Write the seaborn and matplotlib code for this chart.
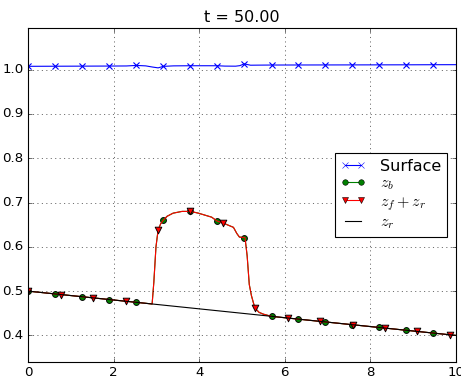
import matplotlib
matplotlib.use("Agg")
import matplotlib.pyplot as plt
from matplotlib.lines import Line2D
import seaborn as sns

# Datos leidos de la figura
# superficie libre
surf_x = [0.0, 0.63, 1.26, 1.89, 2.3, 2.53, 2.75, 2.9, 3.04, 3.16, 3.4, 3.79, 4.42,
          4.6, 4.85, 4.95, 5.05, 5.2, 5.4, 5.69, 6.32, 6.95, 7.58, 8.21, 8.84, 9.47, 10.0]
surf_y = [1.0075, 1.0077, 1.0079, 1.0081, 1.0083, 1.0095, 1.0085, 1.0060, 1.0040, 1.0074,
          1.0085, 1.0088, 1.0088, 1.0080, 1.0078, 1.0090, 1.0130, 1.0100, 1.0102, 1.0104,
          1.0105, 1.0106, 1.0107, 1.0108, 1.0109, 1.0111, 1.0112]
surf_mark_x = [0.0, 0.63, 1.26, 1.89, 2.53, 3.16, 3.79, 4.42, 5.05, 5.69, 6.32, 6.95,
               7.58, 8.21, 8.84, 9.47]
surf_mark_y = [1.0075, 1.0077, 1.0079, 1.0081, 1.0095, 1.0074, 1.0088, 1.0088, 1.0130,
               1.0104, 1.0105, 1.0106, 1.0107, 1.0108, 1.0109, 1.0111]

# perfil del fondo / flujo (z_b y z_f + z_r coinciden)
prof_x = [0.0, 2.9, 2.94, 2.99, 3.04, 3.1, 3.16, 3.25, 3.39, 3.6, 3.8, 3.98, 4.29, 4.42,
          4.55, 4.65, 4.8, 4.88, 4.94, 5.07, 5.12, 5.17, 5.22, 5.3, 5.4, 5.5, 5.69, 10.0]
prof_y = [0.500, 0.471, 0.520, 0.600, 0.638, 0.652, 0.660, 0.669, 0.676, 0.680, 0.680,
          0.676, 0.667, 0.658, 0.654, 0.650, 0.644, 0.630, 0.622, 0.621, 0.580, 0.515,
          0.490, 0.462, 0.452, 0.448, 0.443, 0.400]

bed_mark_x = [0.0, 0.63, 1.26, 1.89, 2.53, 3.16, 3.79, 4.42, 5.05, 5.69, 6.32, 6.95,
              7.58, 8.21, 8.84, 9.47]
bed_mark_y = [0.500, 0.494, 0.487, 0.481, 0.475, 0.660, 0.680, 0.658, 0.621, 0.443,
              0.437, 0.430, 0.424, 0.418, 0.412, 0.405]

flow_mark_x = [0.0, 0.76, 1.52, 2.28, 3.04, 3.79, 4.55, 5.31, 6.07, 6.83, 7.59, 8.34,
               9.1, 9.86]
flow_mark_y = [0.500, 0.492, 0.485, 0.477, 0.638, 0.680, 0.654, 0.461, 0.439, 0.432,
               0.424, 0.417, 0.409, 0.401]

# z_r recta
zr_x = [0.0, 10.0]
zr_y = [0.5, 0.4]

etiquetas = ['Surface', '$z_b$', '$z_f + z_r$', '$z_r$']
titulo = 't = 50.00'

plt.style.use('classic')
plt.rcParams['figure.facecolor'] = 'white'
plt.rcParams['savefig.facecolor'] = 'white'

fig = plt.figure(figsize=(461 / 80, 379 / 80), dpi=80)
ax = fig.add_axes([28 / 461, 17 / 379, 428 / 461, 334 / 379])

# Superficie
sns.lineplot(x=surf_x, y=surf_y, color='b', lw=1, estimator=None, sort=False, ax=ax, zorder=2)
sns.scatterplot(x=surf_mark_x, y=surf_mark_y, marker='x', color='b', s=30, linewidth=1,
                ax=ax, zorder=2)

# z_b
sns.lineplot(x=prof_x, y=prof_y, color='g', lw=1, estimator=None, sort=False, ax=ax, zorder=2)
sns.scatterplot(x=bed_mark_x, y=bed_mark_y, marker='o', color='g', edgecolor='k', s=28,
                linewidth=0.8, ax=ax, zorder=2.05)

# z_f + z_r
sns.lineplot(x=prof_x, y=prof_y, color='r', lw=1, estimator=None, sort=False, ax=ax, zorder=2.1)
sns.scatterplot(x=flow_mark_x, y=flow_mark_y, marker='v', color='r', edgecolor='k', s=36,
                linewidth=0.8, ax=ax, zorder=2.15)

# z_r
sns.lineplot(x=zr_x, y=zr_y, color='k', lw=1, estimator=None, sort=False, ax=ax, zorder=2.2)

ax.set_xlim(0, 10)
ax.set_ylim(0.34, 1.094)
ax.set_xticks([0, 2, 4, 6, 8, 10])
ax.set_yticks([0.4, 0.5, 0.6, 0.7, 0.8, 0.9, 1.0])
ax.grid(True)
ax.set_title(titulo)

handles = [
    Line2D([], [], color='b', marker='x', mec='b', ms=5),
    Line2D([], [], color='g', marker='o', mfc='g', mec='k', ms=5),
    Line2D([], [], color='r', marker='v', mfc='r', mec='k', ms=6),
    Line2D([], [], color='k'),
]
ax.legend(handles, etiquetas, loc='center right', labelspacing=0.1, borderpad=0.35,
          handlelength=1.6, handletextpad=0.9, borderaxespad=0.55)

fig.savefig('out.png', dpi=80)
